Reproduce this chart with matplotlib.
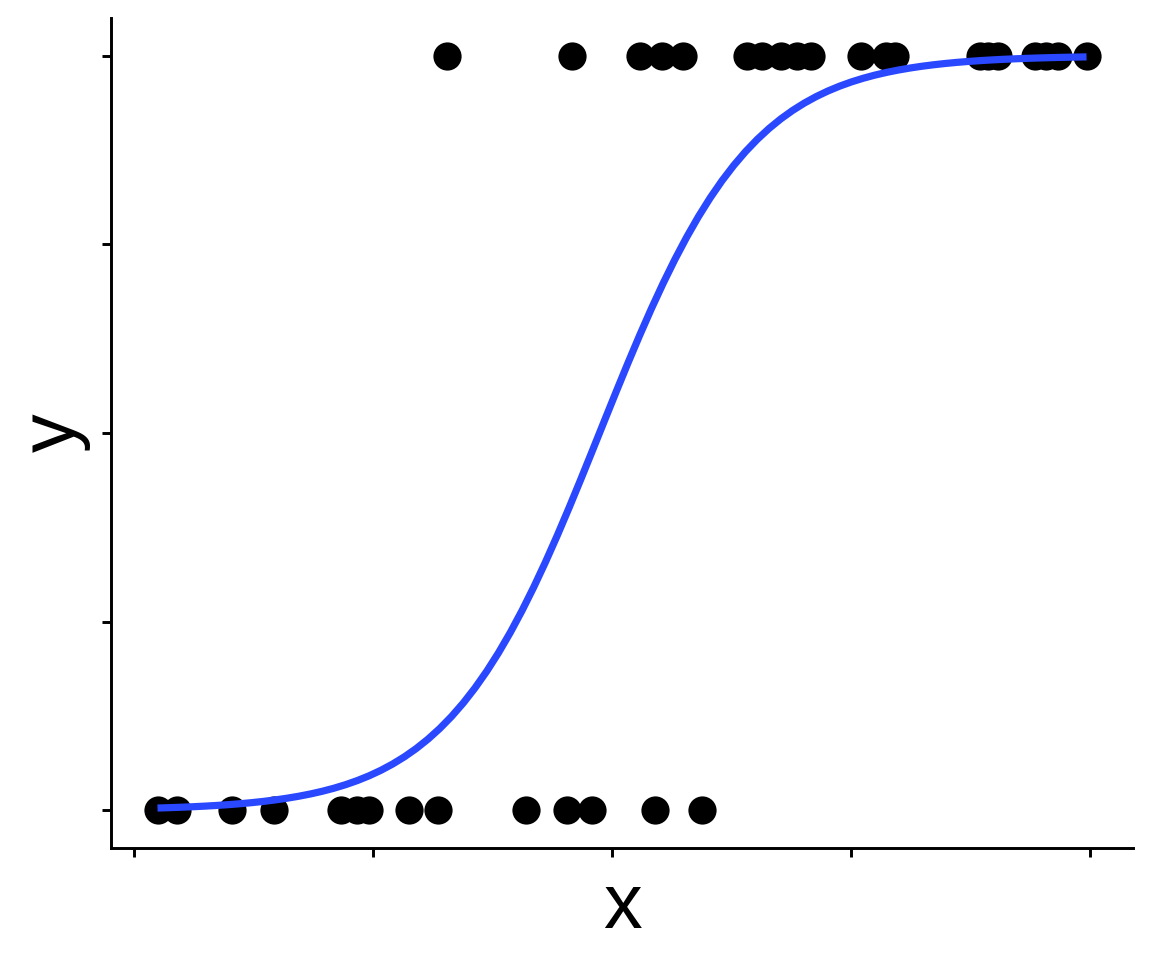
import numpy as np
import matplotlib.pyplot as plt

# observed points (x in [0, 1], binary outcome)
x_one = [0.328, 0.458, 0.529, 0.552, 0.574, 0.641, 0.657, 0.677, 0.693, 0.708,
         0.760, 0.786, 0.796, 0.885, 0.893, 0.903, 0.942, 0.954, 0.966, 0.996]
x_zero = [0.025, 0.045, 0.103, 0.147, 0.217, 0.233, 0.246, 0.288, 0.318,
          0.410, 0.453, 0.479, 0.545, 0.594]
y_ticks = [0, 0.25, 0.5, 0.75, 1]
x_ticks = [0, 0.25, 0.5, 0.75, 1]

x = np.array(x_zero + x_one)
y = np.array([0] * len(x_zero) + [1] * len(x_one))


def fit_logistic(x, y, n_iter=50):
    # plain IRLS, same as glm(family = binomial)
    X = np.column_stack([np.ones_like(x), x])
    beta = np.zeros(2)
    for _ in range(n_iter):
        p = 1 / (1 + np.exp(-X @ beta))
        W = p * (1 - p)
        H = X.T @ (X * W[:, None])
        g = X.T @ (y - p)
        beta = beta + np.linalg.solve(H, g)
    return beta


beta = fit_logistic(x, y)
xs = np.linspace(x.min(), x.max(), 80)
ys = 1 / (1 + np.exp(-(beta[0] + beta[1] * xs)))

plt.rcParams['font.family'] = ['Liberation Sans', 'DejaVu Sans']
fig = plt.figure(figsize=(6, 5), dpi=192)
ax = fig.add_axes([0.0964, 0.1167, 0.8871, 0.8646])

ax.scatter(x, y, s=112, color="black", linewidths=0, zorder=2)
ax.plot(xs, ys, color="#2A48FF", lw=2.7, zorder=3, solid_capstyle="butt")

pad_x = 0.05 * (x.max() - x.min())
ax.set_xlim(x.min() - pad_x, x.max() + pad_x)
ax.set_ylim(-0.05, 1.05)
ax.set_xticks(x_ticks)
ax.set_yticks(y_ticks)
ax.set_xticklabels([])
ax.set_yticklabels([])
ax.tick_params(length=3.2, width=1.1, color="black")

for side in ["top", "right"]:
    ax.spines[side].set_visible(False)
for side in ["left", "bottom"]:
    ax.spines[side].set_linewidth(1.1)

ax.set_xlabel("x", fontsize=29, labelpad=2)
ax.set_ylabel("y", fontsize=29, labelpad=1)

fig.savefig("out.png", dpi=192)
plt.close(fig)
